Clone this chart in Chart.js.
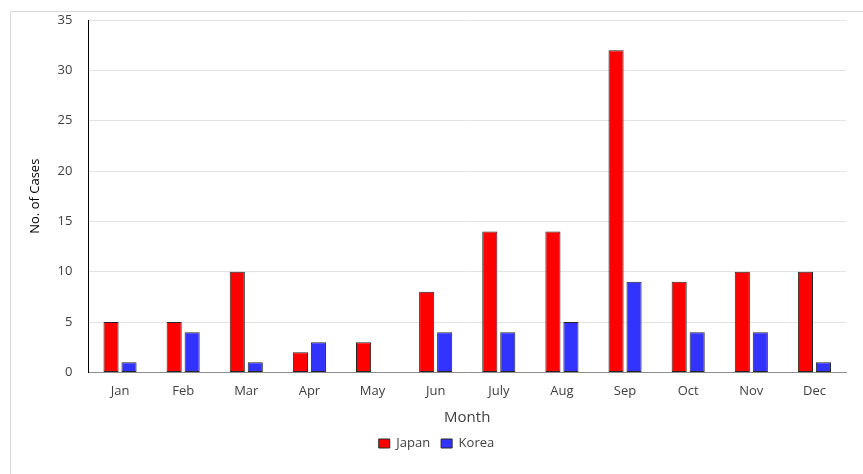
<!DOCTYPE html>
<html>
<head>
<meta charset="utf-8">
<script src="https://cdn.jsdelivr.net/npm/chart.js@4.4.0/dist/chart.umd.min.js"></script>
<style>
  html, body { margin: 0; padding: 0; background: #fff; overflow: hidden; }
  #wrap { position: relative; width: 863px; height: 474px; }
  #frame { position: absolute; left: 10px; top: 11px; width: 900px; height: 500px; border: 1px solid #d9d9d9; box-sizing: border-box; pointer-events: none; }
  canvas { position: absolute; left: 0; top: 0; }
</style>
</head>
<body>
<div id="wrap">
  <canvas id="c" width="863" height="474"></canvas>
  <div id="frame"></div>
</div>
<script>
const months = ["Jan","Feb","Mar","Apr","May","Jun","July","Aug","Sep","Oct","Nov","Dec"];
const japan = [5,5,10,2,3,8,14,14,32,9,10,10];
const korea = [1,4,1,3,0,4,4,5,9,4,4,1];
const yTicks = [0,5,10,15,20,25,30,35];

const FONT = "'Open Sans', Lato, sans-serif";
const TXT = "#404040";

new Chart(document.getElementById("c"), {
  type: "bar",
  data: {
    labels: months,
    datasets: [
      { label: "Japan", data: japan, backgroundColor: "#ff0000", borderColor: "#262626", borderWidth: 1,
        borderSkipped: false, barPercentage: 0.84, categoryPercentage: 0.57 },
      { label: "Korea", data: korea, backgroundColor: "#3333ff", borderColor: "#262626", borderWidth: 1,
        borderSkipped: false, barPercentage: 0.84, categoryPercentage: 0.57 }
    ]
  },
  options: {
    responsive: false,
    animation: false,
    layout: { padding: { left: 27, right: 17, top: 20, bottom: 14 } },
    plugins: {
      legend: {
        position: "bottom",
        labels: { boxWidth: 11, boxHeight: 9, color: TXT, font: { family: FONT, size: 13 }, padding: 11 }
      },
      tooltip: { enabled: false }
    },
    scales: {
      x: {
        grid: { display: false, drawTicks: false },
        border: { display: true, color: "#8c8c8c", width: 1 },
        ticks: { color: TXT, font: { family: FONT, size: 13 }, padding: 11 },
        title: { display: true, text: "Month", color: TXT, font: { family: FONT, size: 15 }, padding: { top: -1, bottom: -1 } }
      },
      y: {
        min: 0, max: 35,
        afterBuildTicks: (axis) => { axis.ticks = yTicks.map(v => ({ value: v })); },
        afterFit: (s) => { s.paddingTop = 9; s.paddingBottom = 9; },
        grid: { color: "#e3e3e3", drawTicks: false },
        border: { display: true, color: "#000000", width: 1 },
        ticks: { color: TXT, font: { family: FONT, size: 13 }, padding: 16 },
        title: { display: true, text: "No. of Cases", color: "#000", font: { family: FONT, size: 13 }, padding: { top: 0, bottom: -1 } }
      }
    }
  }
});
</script>
</body>
</html>
